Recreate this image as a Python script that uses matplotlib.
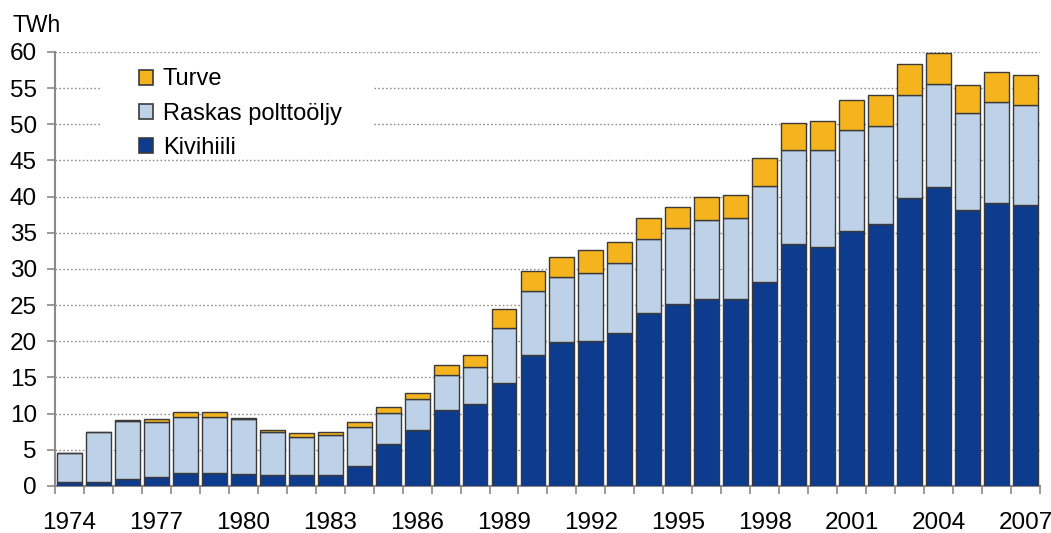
import matplotlib
matplotlib.use("Agg")
import matplotlib.pyplot as plt
from matplotlib.patches import Patch, Rectangle
import numpy as np

plt.rcParams['font.family'] = ['Liberation Sans', 'DejaVu Sans']

years = list(range(1974, 2008))
kivihiili = [0.5, 0.5, 0.9, 1.3, 1.8, 1.8, 1.6, 1.5, 1.5, 1.5, 2.7, 5.8, 7.8, 10.5, 11.4,
             14.2, 18.1, 19.9, 20.0, 21.1, 23.9, 25.1, 25.9, 25.8, 28.2, 33.4, 33.1, 35.2,
             36.2, 39.8, 41.3, 38.2, 39.1, 38.8]
raskas = [4.0, 6.9, 8.1, 7.6, 7.8, 7.7, 7.6, 5.9, 5.3, 5.6, 5.4, 4.3, 4.2, 4.9, 5.0,
          7.7, 8.8, 9.0, 9.5, 9.7, 10.3, 10.5, 10.9, 11.3, 13.3, 13.0, 13.3, 14.0,
          13.6, 14.3, 14.3, 13.3, 14.0, 13.9]
turve = [0.0, 0.1, 0.1, 0.4, 0.6, 0.7, 0.2, 0.4, 0.5, 0.3, 0.8, 0.8, 0.9, 1.3, 1.7,
         2.5, 2.8, 2.7, 3.1, 2.9, 2.8, 3.0, 3.2, 3.1, 3.8, 3.8, 4.0, 4.1, 4.2, 4.3,
         4.2, 3.9, 4.1, 4.1]
series_labels = ['Kivihiili', 'Raskas polttoöljy', 'Turve']
yticks = list(range(0, 65, 5))
year_label_step = 3

c_coal = '#0d3b8e'
c_oil = '#bdd2e8'
c_turf = '#f5b41e'
edge = '#3a3a3a'
axis_gray = '#8a8a8a'

fig = plt.figure(figsize=(10.51, 5.33), dpi=100)
ax = fig.add_axes([0.0523, 0.0882, 0.9372, 0.8143])

x = np.arange(len(years))
w = 0.86
coal = np.array(kivihiili)
oil = np.array(raskas)
turf = np.array(turve)
ax.bar(x, coal, w, color=c_coal, edgecolor=edge, linewidth=1.0, zorder=3)
ax.bar(x, oil, w, bottom=coal, color=c_oil, edgecolor=edge, linewidth=1.0, zorder=3)
ax.bar(x, turf, w, bottom=coal + oil, color=c_turf, edgecolor=edge, linewidth=1.0, zorder=3)

ax.set_xlim(-0.5, len(years) - 0.5)
ax.set_ylim(0, 60)

# grid
for v in yticks[1:]:
    ax.axhline(v, color='#8f8f8f', linestyle=(0, (1.2, 1.6)), linewidth=1.0, zorder=1)

# white area behind legend
ax.add_patch(Rectangle((0.0457, 0.765), 0.277, 0.205, transform=ax.transAxes,
                       facecolor='white', edgecolor='none', zorder=2))

for s in ['top', 'right']:
    ax.spines[s].set_visible(False)
for s in ['left', 'bottom']:
    ax.spines[s].set_color(axis_gray)
    ax.spines[s].set_linewidth(1.5)

fs = 17.5
ax.set_yticks(yticks)
ax.set_yticklabels([str(v) for v in yticks], fontsize=fs)
ax.tick_params(axis='y', direction='out', length=6, width=1.2, color=axis_gray, pad=7)

major = x[::year_label_step]
ax.set_xticks(major)
ax.set_xticklabels([str(years[i]) for i in major], fontsize=fs)
ax.set_xticks(np.arange(len(years) + 1) - 0.5, minor=True)
ax.tick_params(axis='x', which='major', length=0, pad=19)
ax.tick_params(axis='x', which='minor', direction='out', length=6, width=1.2, color=axis_gray)

fig.text(0.012, 1 - 25 / 533, 'TWh', fontsize=16.5, va='center', ha='left')

handles = [Patch(facecolor=c_turf, edgecolor=edge, linewidth=1.2),
           Patch(facecolor=c_oil, edgecolor=edge, linewidth=1.2),
           Patch(facecolor=c_coal, edgecolor=edge, linewidth=1.2)]
labels = [series_labels[2], series_labels[1], series_labels[0]]
leg = ax.legend(handles, labels, loc='upper left', bbox_to_anchor=(0.064, 1.011),
                frameon=False, fontsize=17, handlelength=0.6, handleheight=0.6,
                handletextpad=0.4, labelspacing=0.52, borderpad=0.4)
leg.set_zorder(5)

fig.savefig('out.png', dpi=100, facecolor='white')
